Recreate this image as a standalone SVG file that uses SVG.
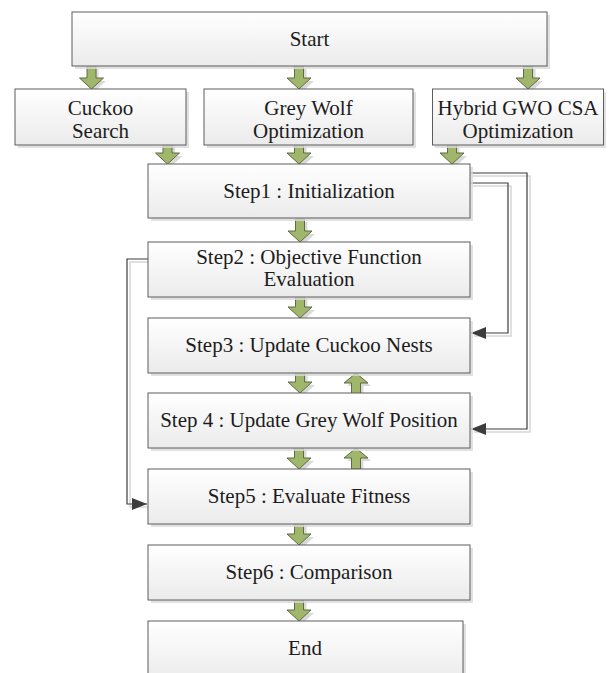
<svg xmlns="http://www.w3.org/2000/svg" width="609" height="673" viewBox="0 0 609 673">
<defs>
<linearGradient id="g" x1="0" y1="0" x2="0" y2="1">
<stop offset="0" stop-color="#ffffff"/>
<stop offset="1" stop-color="#ebebeb"/>
</linearGradient>
<path id="ad" d="M-4.5,-23 L4.5,-23 L4.5,-11 L12,-11 L0,0 L-12,-11 L-4.5,-11 Z"/>
<path id="au" d="M-4.5,21 L4.5,21 L4.5,10 L12,10 L0,0 L-12,10 L-4.5,10 Z"/>
<marker id="tri" markerUnits="userSpaceOnUse" markerWidth="16" markerHeight="12" refX="15" refY="6" orient="auto">
<path d="M0,0 L15,6 L0,12 Z" fill="#3c3c3c"/>
</marker>
</defs>
<style>
.sh{fill:#d9d9d9;opacity:0.8}
.bx{fill:url(#g);stroke:#5c5c5c;stroke-width:1}
.t{font-size:21px;fill:#1c1c1c;text-anchor:middle}
.arr{fill:#a0b66a;stroke:#5f6b45;stroke-width:1}
.arrs{fill:#d9d9d9}
.cn{fill:none;stroke:#3c3c3c;stroke-width:1.2}
.cns{fill:none;stroke:#d6d6d6;stroke-width:1.5}
</style>
<rect width="609" height="673" fill="#ffffff"/>

<g id="connectors">
<path class="cns" d="M473,176 H530 V432 H474"/>
<path class="cns" d="M473,186 H511 V336 H474"/>
<path class="cns" d="M151,262 H130 V507 H150"/>
<path class="cn" d="M470,173 H527 V429 H471" marker-end="url(#tri)"/>
<path class="cn" d="M470,183 H508 V333 H471" marker-end="url(#tri)"/>
<path class="cn" d="M148,259 H127 V504 H147" marker-end="url(#tri)"/>
</g>

<g id="arrows">
<use href="#ad" class="arrs" transform="translate(94,92)"/>
<use href="#ad" class="arr" transform="translate(91.5,89)"/>
<use href="#ad" class="arrs" transform="translate(302,92)"/>
<use href="#ad" class="arr" transform="translate(299,89)"/>
<use href="#ad" class="arrs" transform="translate(531,92)"/>
<use href="#ad" class="arr" transform="translate(528,89)"/>
<use href="#ad" class="arrs" transform="translate(170.5,167)"/>
<use href="#ad" class="arr" transform="translate(167.5,164)"/>
<use href="#ad" class="arrs" transform="translate(302,167)"/>
<use href="#ad" class="arr" transform="translate(299,164)"/>
<use href="#ad" class="arrs" transform="translate(455,167)"/>
<use href="#ad" class="arr" transform="translate(452,164)"/>
<use href="#ad" class="arrs" transform="translate(303,245)"/>
<use href="#ad" class="arr" transform="translate(300,242)"/>
<use href="#ad" class="arrs" transform="translate(303,321)"/>
<use href="#ad" class="arr" transform="translate(300,318)"/>
<use href="#ad" class="arrs" transform="translate(303,396)"/>
<use href="#ad" class="arr" transform="translate(300,393)"/>
<use href="#au" class="arrs" transform="translate(359,376)"/>
<use href="#au" class="arr" transform="translate(356,373)"/>
<use href="#ad" class="arrs" transform="translate(302,472)"/>
<use href="#ad" class="arr" transform="translate(299,469)"/>
<use href="#au" class="arrs" transform="translate(359,451)"/>
<use href="#au" class="arr" transform="translate(356,448)"/>
<use href="#ad" class="arrs" transform="translate(302,548)"/>
<use href="#ad" class="arr" transform="translate(299,545)"/>
<use href="#ad" class="arrs" transform="translate(302,624)"/>
<use href="#ad" class="arr" transform="translate(299,621)"/>
</g>

<g font-family="Liberation Serif, Times New Roman, DejaVu Serif, serif">
<g id="start">
<rect class="sh" x="75" y="15" width="475" height="54"/>
<rect class="bx" x="72" y="12" width="475" height="54"/>
<text class="t" x="309.5" y="46">Start</text>
</g>
<g id="cuckoo">
<rect class="sh" x="18" y="92" width="171" height="56"/>
<rect class="bx" x="15" y="89" width="171" height="56"/>
<text class="t" x="100.5" y="115">Cuckoo</text>
<text class="t" x="100.5" y="137.5">Search</text>
</g>
<g id="greywolf">
<rect class="sh" x="207" y="92" width="209" height="56"/>
<rect class="bx" x="204" y="89" width="209" height="56"/>
<text class="t" x="308.5" y="115">Grey Wolf</text>
<text class="t" x="308.5" y="137.5">Optimization</text>
</g>
<g id="hybrid">
<rect class="sh" x="435" y="92" width="171" height="56"/>
<rect class="bx" x="432.5" y="89" width="171" height="56"/>
<text class="t" x="518" y="115">Hybrid GWO CSA</text>
<text class="t" x="518" y="137.5">Optimization</text>
</g>
<g id="step1">
<rect class="sh" x="151" y="167" width="322" height="54"/>
<rect class="bx" x="148" y="164" width="322" height="54"/>
<text class="t" x="309" y="198">Step1 : Initialization</text>
</g>
<g id="step2">
<rect class="sh" x="151" y="245" width="322" height="55"/>
<rect class="bx" x="148" y="242" width="322" height="55"/>
<text class="t" x="309" y="263.5">Step2 : Objective Function</text>
<text class="t" x="309" y="286">Evaluation</text>
</g>
<g id="step3">
<rect class="sh" x="151" y="321" width="322" height="55"/>
<rect class="bx" x="148" y="318" width="322" height="55"/>
<text class="t" x="309" y="352">Step3 : Update Cuckoo Nests</text>
</g>
<g id="step4">
<rect class="sh" x="151" y="396" width="322" height="55"/>
<rect class="bx" x="148" y="393" width="322" height="55"/>
<text class="t" x="309" y="427">Step 4 : Update Grey Wolf Position</text>
</g>
<g id="step5">
<rect class="sh" x="151" y="472" width="322" height="55"/>
<rect class="bx" x="148" y="469" width="322" height="55"/>
<text class="t" x="309" y="503">Step5 : Evaluate Fitness</text>
</g>
<g id="step6">
<rect class="sh" x="151" y="548" width="322" height="55"/>
<rect class="bx" x="148" y="545" width="322" height="55"/>
<text class="t" x="309" y="579">Step6 : Comparison</text>
</g>
<g id="end">
<rect class="sh" x="151" y="624" width="315" height="60"/>
<rect class="bx" x="148" y="621" width="315" height="60"/>
<text class="t" x="305" y="655">End</text>
</g>
</g>
</svg>
